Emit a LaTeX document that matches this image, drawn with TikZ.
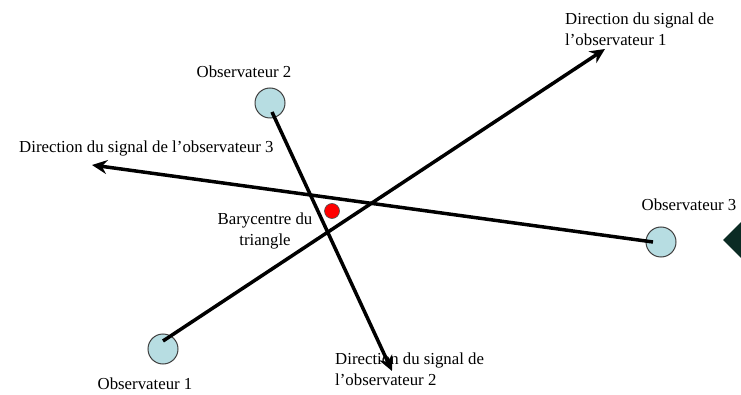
\documentclass[tikz,border=0pt]{standalone}
\usepackage{fontspec}
\setmainfont{Liberation Serif}
\usetikzlibrary{arrows.meta}
\definecolor{obsfill}{HTML}{B7DDE2}
\definecolor{darkteal}{HTML}{0B2B24}
\tikzset{
  obs/.style={circle, draw=black!75, line width=1pt, fill=obsfill, minimum size=30pt, inner sep=0pt},
  lbl/.style={inner sep=0pt, font=\fontsize{16.8}{21}\selectfont, align=left},
  sig/.style={line width=3.5pt, -{Stealth[length=15pt,width=14pt,inset=5pt]}},
}
\begin{document}
\begin{tikzpicture}[x=1pt,y=-1pt]
\useasboundingbox (0,0) rectangle (741,395);
\fill[white] (0,0) rectangle (741,395);
% dark shape at right edge
\fill[darkteal] (723,240) -- (741,222) -- (741,258) -- cycle;
% observers
\node[obs] (o1) at (163,349) {};
\node[obs] (o2) at (270,103) {};
\node[obs] (o3) at (661,242) {};
% start points and arrow ends
\coordinate (s1) at (163,341);
\coordinate (e1) at (605,49);
\coordinate (s2) at (272,112);
\coordinate (e2) at (392,371);
\coordinate (s3) at (653,242);
\coordinate (e3) at (92,165);
\draw[sig] (s1) -- (e1);
\draw[sig] (s2) -- (e2);
\draw[sig] (s3) -- (e3);
% barycentre
\node[circle, fill=red, draw=black!70, line width=0.6pt, minimum size=15pt, inner sep=0pt] (bc) at (332,211) {};
% labels
\node[lbl, anchor=west] (l1) at (565,29) {Direction du signal de\\l’observateur 1};
\node[lbl, anchor=west] (l2) at (335,369) {Direction du signal de\\l’observateur 2};
\node[lbl, anchor=west] (l3) at (19,148) {Direction du signal de l’observateur 3};
\node[lbl] (t1) at (145,384) {Observateur 1};
\node[lbl] (t2) at (244,72) {Observateur 2};
\node[lbl] (t3) at (689,205) {Observateur 3};
\node[lbl, align=center] (tb) at (265,231) {Barycentre du\\triangle};
\end{tikzpicture}
\end{document}
